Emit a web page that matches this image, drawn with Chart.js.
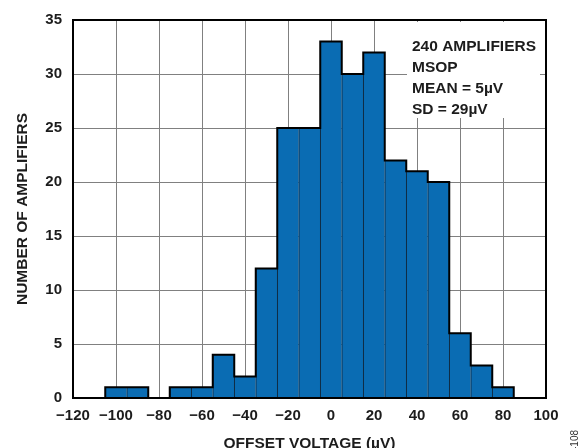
<!doctype html>
<html><head><meta charset="utf-8">
<script src="https://cdn.jsdelivr.net/npm/chart.js@4/dist/chart.umd.min.js"></script>
<style>
* { margin:0; padding:0; box-sizing:border-box; }
html,body { width:579px; height:448px; overflow:hidden; background:#fff; }
</style></head>
<body>
<canvas id="chart" width="579" height="448"></canvas>
<script>
// histogram bins (centre of each 10 µV bin) and counts
const binCenters = [-100, -90, -80, -70, -60, -50, -40, -30, -20, -10, 0, 10, 20, 30, 40, 50, 60, 70, 80];
const counts     = [1, 1, 0, 1, 1, 4, 2, 12, 25, 25, 33, 30, 32, 22, 21, 20, 6, 3, 1];
const binWidth = 10;
const notes = ['240 AMPLIFIERS', 'MSOP', 'MEAN = 5\u00b5V', 'SD = 29\u00b5V'];
const xTitle = 'OFFSET VOLTAGE (\u00b5V)';
const yTitle = 'NUMBER OF AMPLIFIERS';

const FONT = "'Liberation Sans', Arial, sans-serif";
const INK = '#1c1c1c';

// outline of the histogram as a stepped line through the bin edges
const outline = [{ x: binCenters[0] - binWidth / 2, y: 0 }]
  .concat(binCenters.map((c, i) => ({ x: c - binWidth / 2, y: counts[i] })))
  .concat([{ x: binCenters[binCenters.length - 1] + binWidth / 2, y: 0 }]);

const frame = {
  id: 'frame',
  afterDatasetsDraw(chart) {
    const { ctx, chartArea: a } = chart;
    ctx.save();
    // note box
    ctx.fillStyle = '#fff';
    ctx.fillRect(407, a.top + 2, 133, 118 - a.top - 2);
    ctx.fillStyle = INK;
    ctx.font = 'bold 15.5px ' + FONT;
    ctx.textBaseline = 'alphabetic';
    notes.forEach((t, i) => ctx.fillText(t, 412, 51 + i * 21));
    // plot frame
    ctx.strokeStyle = '#000';
    ctx.lineWidth = 2;
    ctx.strokeRect(a.left, a.top, a.right - a.left, a.bottom - a.top);
    // axis titles
    ctx.font = 'bold 15.5px ' + FONT;
    ctx.textAlign = 'center';
    ctx.fillText(xTitle, (a.left + a.right) / 2, 448);
    ctx.translate(27, (a.top + a.bottom) / 2);
    ctx.rotate(-Math.PI / 2);
    ctx.fillText(yTitle, 0, 0);
    ctx.restore();
    // figure number at right edge
    ctx.save();
    ctx.translate(578, 430);
    ctx.rotate(-Math.PI / 2);
    ctx.font = '10px ' + FONT;
    ctx.fillStyle = '#333';
    ctx.textAlign = 'right';
    ctx.fillText('08421-108', 0, 0);
    ctx.restore();
  }
};

const minus = v => String(v).replace('-', '\u2212');

new Chart(document.getElementById('chart'), {
  type: 'bar',
  data: {
    datasets: [{
      type: 'line',
      data: outline,
      stepped: 'before',
      borderColor: '#000',
      borderWidth: 2,
      pointRadius: 0,
      fill: false,
      order: 0
    }, {
      data: binCenters.map((x, i) => ({ x, y: counts[i] })),
      backgroundColor: '#0a6cb3',
      borderColor: '#11283d',
      borderWidth: { left: 1, top: 0, right: 0, bottom: 0 },
      borderSkipped: 'start',
      barPercentage: 1,
      categoryPercentage: 1,
      order: 1
    }]
  },
  options: {
    responsive: false, animation: false,
    layout: { padding: { top: 19, right: 33, bottom: 0, left: 0 } },
    plugins: { legend: { display: false }, tooltip: { enabled: false } },
    scales: {
      x: {
        type: 'linear', min: -120, max: 100, offset: false,
        afterFit: s => { s.height = 50; },
        grid: { offset: false, drawTicks: false, color: '#808080', lineWidth: 1 },
        border: { display: false },
        ticks: { stepSize: 20, padding: 9, color: INK, font: { family: FONT, size: 15, weight: 'bold' }, callback: minus }
      },
      y: {
        min: 0, max: 35,
        afterFit: s => { s.width = 73; },
        grid: { drawTicks: false, color: '#808080', lineWidth: 1 },
        border: { display: false },
        ticks: { stepSize: 5, padding: 11, color: INK, font: { family: FONT, size: 15, weight: 'bold' } }
      }
    }
  },
  plugins: [frame]
});
</script>
</body></html>
